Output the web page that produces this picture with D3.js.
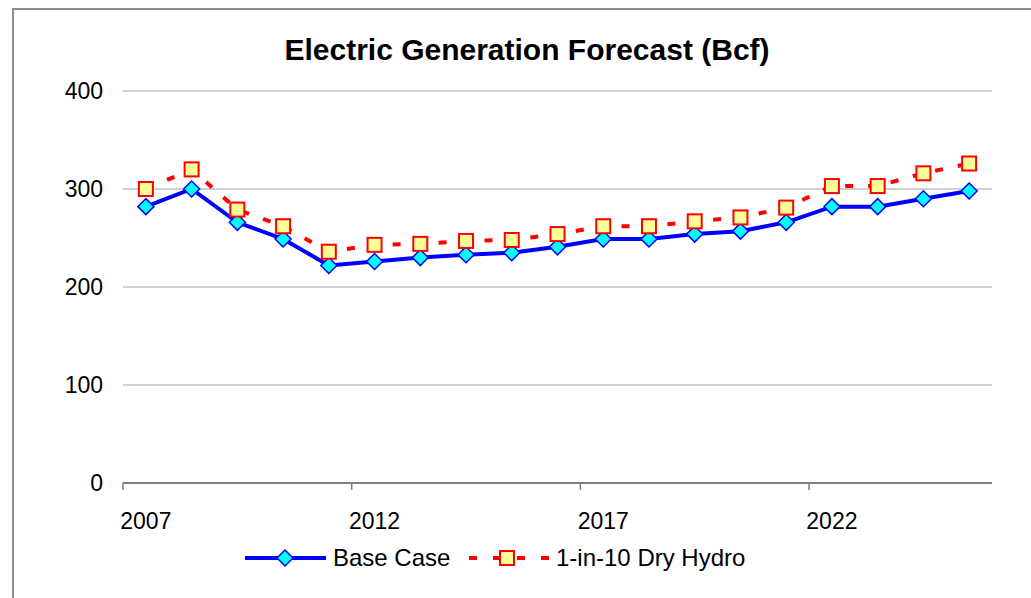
<!DOCTYPE html>
<html>
<head>
<meta charset="utf-8">
<script src="https://cdn.jsdelivr.net/npm/d3@7"></script>
<style>
  body { margin: 0; background: #fff; }
  text { font-family: "Liberation Sans", Arial, sans-serif; }
</style>
</head>
<body>
<script>
// chart data
var years = [2007, 2008, 2009, 2010, 2011, 2012, 2013, 2014, 2015, 2016,
             2017, 2018, 2019, 2020, 2021, 2022, 2023, 2024, 2025];
var baseCase = [282, 300, 266, 249, 222, 226, 230, 233, 235, 241,
                249, 249, 254, 257, 266, 282, 282, 290, 298];
var dryHydro = [300, 320, 279, 262, 236, 243, 244, 247, 248, 254,
                262, 262, 267, 271, 281, 303, 303, 316, 326];
var yTicks = [0, 100, 200, 300, 400];
var xLabelYears = [2007, 2012, 2017, 2022];

var width = 1031, height = 598;

var svg = d3.select("body").append("svg")
  .attr("width", width)
  .attr("height", height);

// outer frame (runs off the right and bottom like the picture)
svg.append("rect")
  .attr("x", 13).attr("y", 9)
  .attr("width", 1040).attr("height", 620)
  .attr("fill", "none")
  .attr("stroke", "#8c8c8c")
  .attr("stroke-width", 2);

var x = d3.scaleBand()
  .domain(years)
  .range([123, 992])
  .padding(0);

var y = d3.scaleLinear()
  .domain([0, 400])
  .range([483, 91]);

var cx = function (d, i) { return x(years[i]) + x.bandwidth() / 2; };

// title
svg.append("text")
  .attr("x", 527).attr("y", 60)
  .attr("text-anchor", "middle")
  .style("font-size", "30px")
  .style("font-weight", "bold")
  .text("Electric Generation Forecast (Bcf)");

// gridlines
svg.selectAll("line.grid")
  .data(yTicks.filter(function (d) { return d > 0; }))
  .enter().append("line")
  .attr("class", "grid")
  .attr("x1", 123).attr("x2", 992)
  .attr("y1", function (d) { return y(d); })
  .attr("y2", function (d) { return y(d); })
  .attr("stroke", "#c0c0c0")
  .attr("stroke-width", 1.5);

// y labels
svg.selectAll("text.ylab")
  .data(yTicks)
  .enter().append("text")
  .attr("class", "ylab")
  .attr("x", 103)
  .attr("y", function (d) { return y(d) + 8; })
  .attr("text-anchor", "end")
  .style("font-size", "23px")
  .text(function (d) { return d; });

// x axis line + ticks at category boundaries every 5
svg.append("line")
  .attr("x1", 123).attr("x2", 992)
  .attr("y1", y(0)).attr("y2", y(0))
  .attr("stroke", "#7f7f7f")
  .attr("stroke-width", 2);

svg.selectAll("line.xtick")
  .data(xLabelYears)
  .enter().append("line")
  .attr("class", "xtick")
  .attr("x1", function (d) { return x(d); })
  .attr("x2", function (d) { return x(d); })
  .attr("y1", y(0)).attr("y2", y(0) + 7)
  .attr("stroke", "#7f7f7f")
  .attr("stroke-width", 1.5);

svg.selectAll("text.xlab")
  .data(xLabelYears)
  .enter().append("text")
  .attr("class", "xlab")
  .attr("x", function (d) { return x(d) + x.bandwidth() / 2; })
  .attr("y", 529)
  .attr("text-anchor", "middle")
  .style("font-size", "23px")
  .text(function (d) { return d; });

// lines
var line = d3.line()
  .x(cx)
  .y(function (d) { return y(d); });

svg.append("path")
  .datum(dryHydro)
  .attr("d", line)
  .attr("fill", "none")
  .attr("stroke", "#ff0000")
  .attr("stroke-width", 4)
  .attr("stroke-dasharray", "8,15");

svg.append("path")
  .datum(baseCase)
  .attr("d", line)
  .attr("fill", "none")
  .attr("stroke", "#0000ff")
  .attr("stroke-width", 4);

var diamond = function (px, py, r) {
  return "M" + px + "," + (py - r) + "L" + (px + r) + "," + py +
         "L" + px + "," + (py + r) + "L" + (px - r) + "," + py + "Z";
};

svg.selectAll("path.dmark")
  .data(baseCase)
  .enter().append("path")
  .attr("class", "dmark")
  .attr("d", function (d, i) { return diamond(cx(d, i), y(d), 8); })
  .attr("fill", "#00ffff")
  .attr("stroke", "#0000ff")
  .attr("stroke-width", 1.5);

svg.selectAll("rect.smark")
  .data(dryHydro)
  .enter().append("rect")
  .attr("class", "smark")
  .attr("x", function (d, i) { return cx(d, i) - 7; })
  .attr("y", function (d) { return y(d) - 7; })
  .attr("width", 14).attr("height", 14)
  .attr("fill", "#ffff99")
  .attr("stroke", "#ff0000")
  .attr("stroke-width", 2);

// legend
var ly = 558;
svg.append("line")
  .attr("x1", 245).attr("x2", 326)
  .attr("y1", ly).attr("y2", ly)
  .attr("stroke", "#0000ff").attr("stroke-width", 4);
svg.append("path")
  .attr("d", diamond(285, ly, 8))
  .attr("fill", "#00ffff").attr("stroke", "#0000ff").attr("stroke-width", 1.5);
svg.append("text")
  .attr("x", 333).attr("y", ly + 8)
  .style("font-size", "24px")
  .text("Base Case");

svg.append("line")
  .attr("x1", 469).attr("x2", 549)
  .attr("y1", ly).attr("y2", ly)
  .attr("stroke", "#ff0000").attr("stroke-width", 4)
  .attr("stroke-dasharray", "8,16");
svg.append("rect")
  .attr("x", 500).attr("y", ly - 7)
  .attr("width", 14).attr("height", 14)
  .attr("fill", "#ffff99").attr("stroke", "#ff0000").attr("stroke-width", 2);
svg.append("text")
  .attr("x", 556).attr("y", ly + 8)
  .style("font-size", "24px")
  .text("1-in-10 Dry Hydro");
</script>
</body>
</html>
